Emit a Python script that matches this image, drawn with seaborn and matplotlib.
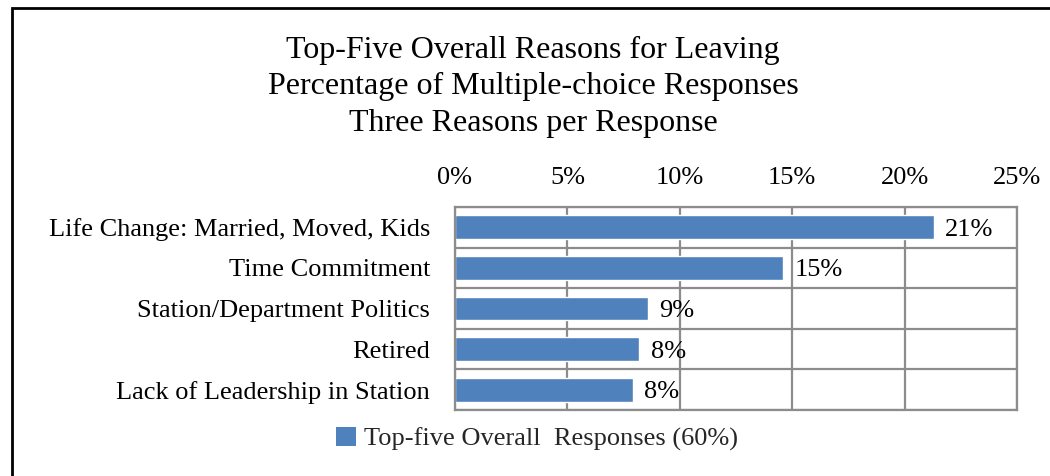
import matplotlib
matplotlib.use("Agg")
import matplotlib.pyplot as plt
from matplotlib.patches import Rectangle
from matplotlib.ticker import FuncFormatter, FixedLocator
import seaborn as sns
import pandas as pd

# Survey results: share of multiple-choice responses (percent)
reasons = [
    "Life Change: Married, Moved, Kids",
    "Time Commitment",
    "Station/Department Politics",
    "Retired",
    "Lack of Leadership in Station",
]
shares = [21.3, 14.6, 8.6, 8.2, 7.9]
x_ticks = [0, 5, 10, 15, 20, 25]
series_name = "Top-five Overall  Responses (60%)"
title_lines = [
    "Top-Five Overall Reasons for Leaving",
    "Percentage of Multiple-choice Responses",
    "Three Reasons per Response",
]

df = pd.DataFrame({"reason": reasons, "share": shares, "series": series_name})

sns.set_theme(style="white")
plt.rcParams["font.family"] = ["Liberation Serif", "DejaVu Serif"]

W, H = 1050, 476
fig = plt.figure(figsize=(W / 100, H / 100), dpi=100)
fig.patch.set_facecolor("white")

# plot area in pixel coordinates (left, top, right, bottom)
L, T, R, B = 455, 207, 1017, 410
ax = fig.add_axes([L / W, 1 - B / H, (R - L) / W, (B - T) / H])

bar_color = "#4F81BD"
sns.barplot(data=df, x="share", y="reason", hue="series", palette=[bar_color],
            orient="h", width=0.59, ax=ax, saturation=1, legend=False)

ax.set_xlim(0, 25)
ax.set_ylim(len(reasons) - 0.5, -0.5)
ax.xaxis.tick_top()
ax.xaxis.set_major_locator(FixedLocator(x_ticks))
ax.xaxis.set_major_formatter(FuncFormatter(lambda v, p: f"{v:.0f}%"))
ax.set_xlabel("")
ax.set_ylabel("")

grid_color = "#8C8C8C"
ax.grid(axis="x", which="major", color=grid_color, linewidth=1.6)
ax.yaxis.set_minor_locator(FixedLocator([i + 0.5 for i in range(-1, len(reasons))]))
ax.grid(axis="y", which="minor", color=grid_color, linewidth=1.6)
ax.grid(axis="y", which="major", visible=False)
ax.set_axisbelow(True)
for s in ax.spines.values():
    s.set_color(grid_color)
    s.set_linewidth(1.6)

ax.tick_params(axis="x", which="both", length=0, labelsize=19, pad=13, colors="black")
ax.tick_params(axis="y", which="both", length=0, labelsize=19, pad=18, colors="black")

# value labels at the end of each bar
for i, v in enumerate(shares):
    ax.text(v + 0.5, i, f"{v:.0f}%", va="center_baseline", ha="left", fontsize=19,
            color="black")

# title block
for k, line in enumerate(title_lines):
    fig.text(533 / W, 1 - (50 + 36.5 * k) / H, line, ha="center", va="center",
             fontsize=23, color="black")

# legend
handle = Rectangle((0, 0), 1, 1, facecolor=bar_color, edgecolor="none")
fig.legend([handle], [series_name], loc="center", bbox_to_anchor=(537 / W, 1 - 439 / H),
           frameon=False, fontsize=19, handlelength=0.75, handleheight=0.75,
           handletextpad=0.3, borderpad=0)

# chart-area frame
fig.patches.append(Rectangle((12 / W, -0.2), 1.2, 1 - 8 / H + 0.2, transform=fig.transFigure,
                             fill=False, edgecolor="black", linewidth=2.0))

fig.savefig("out.png", dpi=100, facecolor="white")
